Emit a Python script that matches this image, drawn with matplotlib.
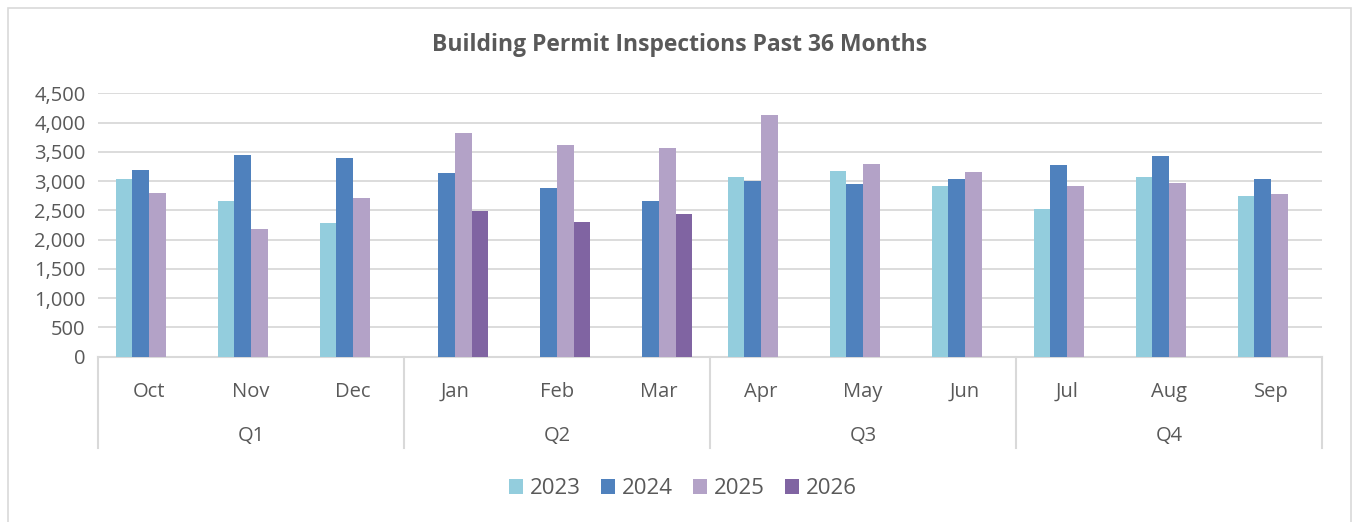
import numpy as np
import matplotlib.pyplot as plt
import matplotlib.transforms as mtransforms
from matplotlib.patches import Rectangle

plt.rcParams['font.family'] = ['Open Sans', 'DejaVu Sans']

# Data
months = ['Oct', 'Nov', 'Dec', 'Jan', 'Feb', 'Mar', 'Apr', 'May', 'Jun', 'Jul', 'Aug', 'Sep']
quarters = ['Q1', 'Q2', 'Q3', 'Q4']
years = ['2023', '2024', '2025', '2026']
v2023 = [3040, 2660, 2285, np.nan, np.nan, np.nan, 3070, 3175, 2915, 2525, 3070, 2745]
v2024 = [3190, 3445, 3395, 3140, 2880, 2660, 3000, 2950, 3035, 3275, 3430, 3035]
v2025 = [2800, 2180, 2710, 3820, 3615, 3565, 4130, 3290, 3155, 2915, 2970, 2780]
v2026 = [np.nan, np.nan, np.nan, 2490, 2300, 2440, np.nan, np.nan, np.nan, np.nan, np.nan, np.nan]

colors = ['#93CDDD', '#4F81BD', '#B3A2C7', '#8064A2']
text_color = '#595959'
grid_color = '#D9D9D9'

W, H = 1354, 522
fig = plt.figure(figsize=(W / 100, H / 100), dpi=100)

# chart border
fig.patches.append(Rectangle((8 / W, -0.05), (1351 - 8) / W, 1.05 - 8 / H,
                             transform=fig.transFigure, fill=False,
                             edgecolor=grid_color, linewidth=1.2))

ax = fig.add_axes([98 / W, 1 - 356.7 / H, (1322 - 98) / W, (356.7 - 93.3) / H])

x = np.arange(len(months))
bw = 0.163
series = [v2023, v2024, v2025, v2026]
for i, (vals, yr) in enumerate(zip(series, years)):
    ax.bar(x + (i - 1.5) * bw, vals, width=bw, color=colors[i], label=yr, zorder=3)

ax.set_xlim(-0.5, len(months) - 0.5)
ax.set_ylim(0, 4500)
ax.set_yticks(np.arange(0, 4501, 500))
ax.set_yticklabels([f'{v:,}' for v in range(0, 4501, 500)])
ax.yaxis.grid(True, color=grid_color, linewidth=1.3, zorder=0)
ax.set_axisbelow(True)
for s in ['top', 'right', 'left']:
    ax.spines[s].set_visible(False)
ax.spines['bottom'].set_color(grid_color)
ax.spines['bottom'].set_linewidth(1.5)
ax.tick_params(axis='y', length=0, labelsize=14.5, colors=text_color, pad=9)

ax.set_xticks(x)
ax.set_xticklabels(months)
ax.tick_params(axis='x', length=0, labelsize=14.5, colors=text_color, pad=18)

# quarter separators and labels
trans = mtransforms.blended_transform_factory(ax.transData, ax.transAxes)
for b in np.arange(-0.5, len(months), 3):
    ax.plot([b, b], [0, -0.347], transform=trans, color=grid_color,
            linewidth=1.5, clip_on=False)
for qi, q in enumerate(quarters):
    ax.text(qi * 3 + 1, -0.302, q, transform=trans, ha='center', va='center',
            fontsize=14.5, color=text_color)

fig.text(680 / W, 1 - 45 / H, 'Building Permit Inspections Past 36 Months',
         ha='center', va='center', fontsize=16.5, fontweight='bold', color=text_color)

fig.legend(loc='center', bbox_to_anchor=(683 / W, 1 - 489 / H), ncol=4,
           frameon=False, fontsize=16, handlelength=0.65, handleheight=0.65,
           handletextpad=0.3, columnspacing=0.9, labelcolor=text_color)

fig.savefig('out.png', dpi=100)
